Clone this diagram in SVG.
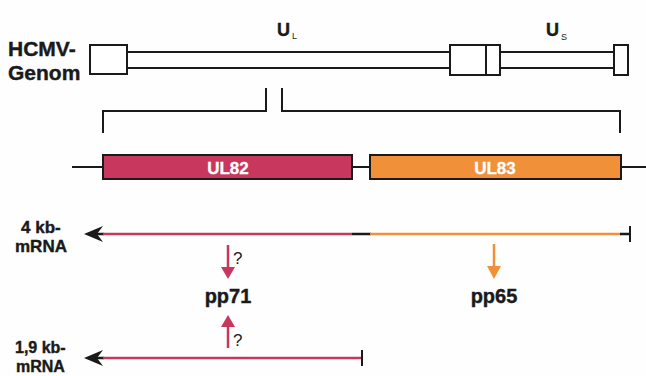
<svg xmlns="http://www.w3.org/2000/svg" width="646" height="376" viewBox="0 0 646 376">
  <style>
    text { font-family: "Liberation Sans", Arial, Helvetica, sans-serif; }
    .lbl { font-weight: 700; fill: #1a1a1a; stroke: #1a1a1a; stroke-width: 0.4; }
    .sub { font-weight: 400; fill: #1a1a1a; font-size: 9px; }
    .gene { font-weight: 700; fill: #ffffff; stroke: #ffffff; stroke-width: 0.3; font-size: 17px; text-anchor: middle; }
    .q { fill: #1a1a1a; font-size: 17px; }
    .box { fill: #ffffff; stroke: #1a1a1a; stroke-width: 2; }
    .ln { stroke: #1a1a1a; stroke-width: 2; fill: none; }
    .tx { stroke-width: 2.5; }
    .red { stroke: #c8385e; }
    .org { stroke: #f0913a; }
  </style>
  <rect width="646" height="376" fill="#fefefe"/>

  <!-- genome map -->
  <g id="genome">
    <text class="lbl" x="8" y="56" font-size="21">HCMV-</text>
    <text class="lbl" x="8" y="80" font-size="21">Genom</text>
    <line class="ln" x1="127" y1="52" x2="450" y2="52"/>
    <line class="ln" x1="127" y1="68" x2="450" y2="68"/>
    <line class="ln" x1="500" y1="52" x2="614" y2="52"/>
    <line class="ln" x1="500" y1="68" x2="614" y2="68"/>
    <rect class="box" x="90" y="45" width="37" height="29"/>
    <rect class="box" x="450" y="45" width="36" height="30"/>
    <rect class="box" x="486" y="45" width="14" height="30"/>
    <rect class="box" x="614" y="45" width="14" height="30"/>
    <text class="lbl" x="277" y="36" font-size="18">U</text>
    <text class="sub" x="292" y="39">L</text>
    <text class="lbl" x="546" y="36" font-size="18">U</text>
    <text class="sub" x="561" y="40">S</text>
  </g>

  <!-- enlargement bracket -->
  <g id="bracket">
    <polyline class="ln" points="103,133 103,111 266,111 266,88"/>
    <polyline class="ln" points="282,88 282,111 620,111 620,133"/>
  </g>

  <!-- gene row -->
  <g id="genes">
    <line class="ln" x1="72" y1="167" x2="103" y2="167"/>
    <line class="ln" x1="352" y1="167" x2="370" y2="167"/>
    <line class="ln" x1="621" y1="167" x2="646" y2="167"/>
  </g>
  <g id="UL82">
    <rect x="103" y="155" width="249" height="24" fill="#c8385e" stroke="#1a1a1a" stroke-width="2"/>
    <text class="gene" x="228" y="174">UL82</text>
  </g>
  <g id="UL83">
    <rect x="370" y="155" width="251" height="24" fill="#f0913a" stroke="#1a1a1a" stroke-width="2"/>
    <text class="gene" x="495" y="174">UL83</text>
  </g>

  <!-- 4 kb transcript -->
  <g id="mRNA4kb">
    <text class="lbl" x="21" y="233" font-size="17">4 kb-</text>
    <text class="lbl" x="15" y="252" font-size="17">mRNA</text>
  </g>
  <!-- 1,9 kb transcript -->
  <g id="mRNA19kb">
    <text class="lbl" x="15" y="353" font-size="16">1,9 kb-</text>
    <text class="lbl" x="16" y="372" font-size="16">mRNA</text>
  </g>

  <g id="pp71">
    <text class="lbl" x="228" y="303" font-size="20" text-anchor="middle">pp71</text>
  </g>
  <g id="pp65">
    <text class="lbl" x="494" y="303" font-size="20" text-anchor="middle">pp65</text>
  </g>

  <g id="connectors">
    <!-- 4 kb line -->
    <line class="ln tx" x1="96" y1="234" x2="104" y2="234"/>
    <path d="M84,234 L103,226 L97,234 L103,242 Z" fill="#1a1a1a"/>
    <line class="ln tx red" x1="103" y1="234" x2="352" y2="234"/>
    <line class="ln tx" x1="352" y1="234" x2="371" y2="234"/>
    <line class="ln tx org" x1="370" y1="234" x2="621" y2="234"/>
    <line class="ln tx" x1="620" y1="234" x2="630" y2="234"/>
    <line class="ln" x1="630" y1="226" x2="630" y2="242"/>

    <!-- 1,9 kb line -->
    <line class="ln tx" x1="96" y1="358" x2="104" y2="358"/>
    <path d="M84,358 L103,350 L97,358 L103,366 Z" fill="#1a1a1a"/>
    <line class="ln tx red" x1="103" y1="358" x2="362" y2="358"/>
    <line class="ln" x1="362" y1="350" x2="362" y2="366"/>

    <!-- translation arrows -->
    <line class="ln tx red" x1="228" y1="245" x2="228" y2="268"/>
    <path d="M221,267 L235,267 L228,279 Z" fill="#c8385e"/>
    <text class="q" x="233" y="264">?</text>

    <line class="ln tx red" x1="228" y1="348" x2="228" y2="326"/>
    <path d="M221,327 L235,327 L228,315 Z" fill="#c8385e"/>
    <text class="q" x="233" y="346">?</text>

    <line class="ln tx org" x1="494" y1="244" x2="494" y2="267"/>
    <path d="M487,266 L501,266 L494,279 Z" fill="#f0913a"/>
  </g>
</svg>
